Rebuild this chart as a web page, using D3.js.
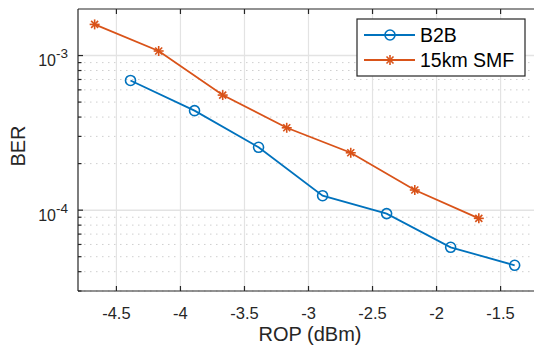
<!DOCTYPE html>
<html>
<head>
<meta charset="utf-8">
<script src="https://cdn.jsdelivr.net/npm/d3@7"></script>
<style>
  body { margin: 0; background: #fff; }
  svg { display: block; font-family: 'Liberation Sans', Arial, Helvetica, sans-serif; }
</style>
</head>
<body>
<div id="chart"></div>
<script>
const seriesNames = ['B2B', '15km SMF'];
const b2bRop = [-4.39, -3.89, -3.39, -2.89, -2.39, -1.89, -1.39];
const b2bBer = [6.9e-4, 4.4e-4, 2.55e-4, 1.24e-4, 9.5e-5, 5.75e-5, 4.4e-5];
const smfRop = [-4.67, -4.17, -3.67, -3.17, -2.67, -2.17, -1.67];
const smfBer = [1.59e-3, 1.07e-3, 5.55e-4, 3.41e-4, 2.35e-4, 1.35e-4, 8.85e-5];
const xTicks = [-4.5, -4, -3.5, -3, -2.5, -2, -1.5];
const yTicks = [1e-4, 1e-3];

const width = 534, height = 348;
const margin = { left: 78, top: 9, right: -5, bottom: 57 };
const colors = ['#0072BD', '#D95319'];
const axisColor = '#262626';

const svg = d3
  .select('#chart')
  .append('svg')
  .attr('width', width)
  .attr('height', height);

const x = d3
  .scaleLinear()
  .domain([-4.8, -1.2])
  .range([margin.left, width - margin.right]);

const y = d3
  .scaleLog()
  .domain([3e-5, 2e-3])
  .range([height - margin.bottom, margin.top]);

const x0 = margin.left, x1 = width - margin.right;
const y0 = height - margin.bottom, y1 = margin.top;

// minor y values (2..9 per decade) inside the domain
const minorY = [];
[1e-5, 1e-4, 1e-3].forEach(dec => {
  for (let k = 2; k <= 9; k++) {
    const v = dec * k;
    if (v > 3e-5 && v < 2e-3) minorY.push(v);
  }
});

const grid = svg.append('g');
grid
  .selectAll('line.minor')
  .data(minorY)
  .enter()
  .append('line')
  .attr('x1', x0)
  .attr('x2', x1)
  .attr('y1', d => y(d))
  .attr('y2', d => y(d))
  .attr('stroke', '#cfcfcf')
  .attr('stroke-width', 1)
  .attr('stroke-dasharray', '1.5,4.5');

grid
  .selectAll('line.vx')
  .data(xTicks)
  .enter()
  .append('line')
  .attr('x1', d => x(d))
  .attr('x2', d => x(d))
  .attr('y1', y0)
  .attr('y2', y1)
  .attr('stroke', '#e3e3e3')
  .attr('stroke-width', 1.2);

grid
  .selectAll('line.hy')
  .data(yTicks)
  .enter()
  .append('line')
  .attr('x1', x0)
  .attr('x2', x1)
  .attr('y1', d => y(d))
  .attr('y2', d => y(d))
  .attr('stroke', '#e3e3e3')
  .attr('stroke-width', 1.5);

// axes frame
const frame = svg.append('g').attr('stroke', axisColor).attr('stroke-width', 1.2);
frame.append('line').attr('x1', x0).attr('x2', x1).attr('y1', y0).attr('y2', y0);
frame.append('line').attr('x1', x0).attr('x2', x1).attr('y1', y1).attr('y2', y1);
frame.append('line').attr('x1', x0).attr('x2', x0).attr('y1', y0).attr('y2', y1);

// inward ticks
frame
  .selectAll('line.xt')
  .data(xTicks)
  .enter()
  .append('line')
  .attr('x1', d => x(d))
  .attr('x2', d => x(d))
  .attr('y1', y0)
  .attr('y2', y0 - 5);
frame
  .selectAll('line.xtt')
  .data(xTicks)
  .enter()
  .append('line')
  .attr('x1', d => x(d))
  .attr('x2', d => x(d))
  .attr('y1', y1)
  .attr('y2', y1 + 5);
frame
  .selectAll('line.yt')
  .data(yTicks)
  .enter()
  .append('line')
  .attr('x1', x0)
  .attr('x2', x0 + 5)
  .attr('y1', d => y(d))
  .attr('y2', d => y(d));
frame
  .selectAll('line.ymt')
  .data(minorY)
  .enter()
  .append('line')
  .attr('x1', x0)
  .attr('x2', x0 + 3.5)
  .attr('y1', d => y(d))
  .attr('y2', d => y(d));

// tick labels
svg
  .append('g')
  .selectAll('text')
  .data(xTicks)
  .enter()
  .append('text')
  .attr('x', d => x(d))
  .attr('y', y0 + 27.5)
  .attr('text-anchor', 'middle')
  .attr('font-size', 16.5)
  .attr('fill', axisColor)
  .text(d => d3.format('')(d).replace('−', '-'));

const yl = svg
  .append('g')
  .selectAll('text')
  .data(yTicks)
  .enter()
  .append('text')
  .attr('x', x0 - 10)
  .attr('y', d => y(d) + 10.5)
  .attr('text-anchor', 'end')
  .attr('fill', axisColor);
yl.append('tspan').attr('font-size', 16).text('10');
yl.append('tspan')
  .attr('font-size', 13.5)
  .attr('dy', -8)
  .text(d => Math.round(Math.log10(d)));

// axis titles
svg
  .append('text')
  .attr('x', 310)
  .attr('y', 341)
  .attr('text-anchor', 'middle')
  .attr('font-size', 20)
  .attr('fill', axisColor)
  .text('ROP (dBm)');
svg
  .append('text')
  .attr('transform', 'translate(25,146) rotate(-90)')
  .attr('text-anchor', 'middle')
  .attr('font-size', 20)
  .attr('fill', axisColor)
  .text('BER');

// series
const series = [
  { name: seriesNames[0], xs: b2bRop, ys: b2bBer, marker: 'circle' },
  { name: seriesNames[1], xs: smfRop, ys: smfBer, marker: 'star' }
];

const line = d3.line().x(d => x(d[0])).y(d => y(d[1]));

function drawMarker(g, type, color) {
  if (type === 'circle') {
    g.append('circle')
      .attr('r', 5)
      .attr('fill', 'none')
      .attr('stroke', color)
      .attr('stroke-width', 1.6);
  } else {
    const r = 5;
    const path = [
      [-r, 0, r, 0],
      [0, -r, 0, r],
      [-r * 0.7, -r * 0.7, r * 0.7, r * 0.7],
      [-r * 0.7, r * 0.7, r * 0.7, -r * 0.7]
    ];
    path.forEach(p => {
      g.append('line')
        .attr('x1', p[0]).attr('y1', p[1])
        .attr('x2', p[2]).attr('y2', p[3])
        .attr('stroke', color)
        .attr('stroke-width', 1.6);
    });
  }
}

series.forEach((s, i) => {
  const pts = s.xs.map((v, j) => [v, s.ys[j]]);
  svg
    .append('path')
    .datum(pts)
    .attr('d', line)
    .attr('fill', 'none')
    .attr('stroke', colors[i])
    .attr('stroke-width', 1.8);
  const m = svg
    .append('g')
    .selectAll('g')
    .data(pts)
    .enter()
    .append('g')
    .attr('transform', d => `translate(${x(d[0])},${y(d[1])})`);
  m.each(function() { drawMarker(d3.select(this), s.marker, colors[i]); });
});

// legend
const legend = svg.append('g').attr('transform', 'translate(357,19)');
legend
  .append('rect')
  .attr('width', 168)
  .attr('height', 57)
  .attr('fill', '#fff')
  .attr('stroke', axisColor)
  .attr('stroke-width', 1.2);
series.forEach((s, i) => {
  const ly = 16 + i * 25;
  legend
    .append('line')
    .attr('x1', 7)
    .attr('x2', 58)
    .attr('y1', ly)
    .attr('y2', ly)
    .attr('stroke', colors[i])
    .attr('stroke-width', 1.8);
  const mg = legend.append('g').attr('transform', `translate(33,${ly})`);
  drawMarker(mg, s.marker, colors[i]);
  legend
    .append('text')
    .attr('x', 63)
    .attr('y', ly + 7)
    .attr('font-size', 19.5)
    .attr('fill', '#000')
    .text(s.name);
});
</script>
</body>
</html>
